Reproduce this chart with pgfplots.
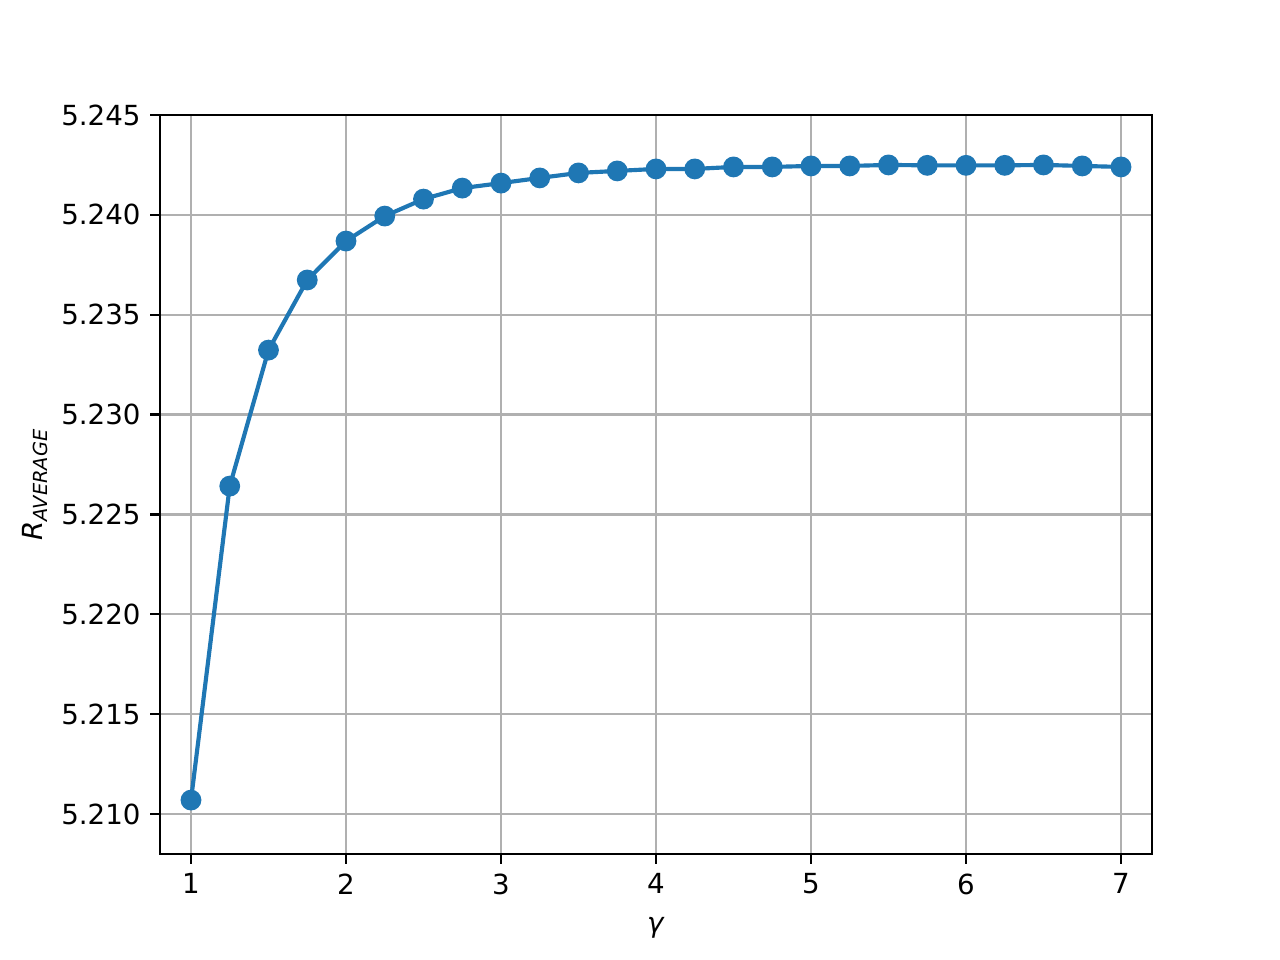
\documentclass[border=0pt]{standalone}
\usepackage{pgfplots}
\pgfplotsset{compat=1.18}
\usepackage{fontspec}
\setmainfont{DejaVu Sans}

\definecolor{mplblue}{HTML}{1F77B4}
\definecolor{gridgray}{HTML}{B0B0B0}

\begin{document}
\begin{tikzpicture}
\useasboundingbox (-0.8in,-0.53in) rectangle (5.6in,4.27in);
\begin{axis}[
    at={(0,0)}, anchor=south west,
    scale only axis,
    width=4.96in, height=3.695in,
    xmin=0.8, xmax=7.2,
    ymin=5.208, ymax=5.245,
    xtick={1,2,3,4,5,6,7},
    ytick={5.210,5.215,5.220,5.225,5.230,5.235,5.240,5.245},
    scaled y ticks=false,
    yticklabel style={/pgf/number format/.cd, fixed, fixed zerofill, precision=3},
    /pgf/number format/assume math mode=true,
    tick label style={font=\fontsize{10}{12}\selectfont},
    label style={font=\fontsize{10}{12}\selectfont},
    xlabel={\textit{γ}},
    ylabel={\textit{R}\textsubscript{\textit{AVERAGE}}},
    tick align=outside,
    tick pos=left,
    major tick length=3.5pt,
    every tick/.style={black, line width=0.8pt},
    axis line style={line width=0.8pt},
    grid=major,
    major grid style={gridgray, line width=0.8pt},
    xlabel style={yshift=-1.5pt},
    ylabel style={yshift=-2pt},
]
\addplot[color=mplblue, line width=1.5pt, mark=*, mark size=3pt, mark options={fill=mplblue, draw=none}] coordinates {
    (1.00, 5.2107)
    (1.25, 5.22642)
    (1.50, 5.23323)
    (1.75, 5.23674)
    (2.00, 5.23869)
    (2.25, 5.23994)
    (2.50, 5.24079)
    (2.75, 5.24134)
    (3.00, 5.24159)
    (3.25, 5.24185)
    (3.50, 5.24210)
    (3.75, 5.24220)
    (4.00, 5.24230)
    (4.25, 5.24230)
    (4.50, 5.24240)
    (4.75, 5.24240)
    (5.00, 5.24245)
    (5.25, 5.24245)
    (5.50, 5.24250)
    (5.75, 5.24248)
    (6.00, 5.24248)
    (6.25, 5.24248)
    (6.50, 5.24250)
    (6.75, 5.24245)
    (7.00, 5.24240)
};
\end{axis}
\end{tikzpicture}
\end{document}
